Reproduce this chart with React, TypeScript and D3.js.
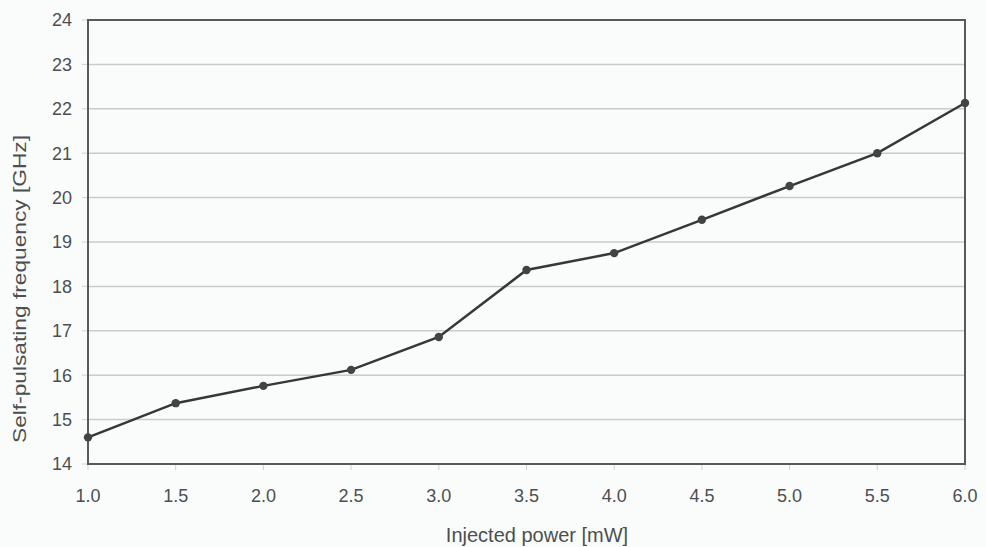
import React from 'react';
import * as d3 from 'd3';

const powers = [1.0, 1.5, 2.0, 2.5, 3.0, 3.5, 4.0, 4.5, 5.0, 5.5, 6.0];
const freqs = [14.6, 15.37, 15.76, 16.12, 16.86, 18.37, 18.75, 19.5, 20.26, 21.0, 22.13];
const xTicks = [1.0, 1.5, 2.0, 2.5, 3.0, 3.5, 4.0, 4.5, 5.0, 5.5, 6.0];
const yTicks = [14, 15, 16, 17, 18, 19, 20, 21, 22, 23, 24];

const W = 986;
const H = 547;
const margin = { top: 20, right: 21, bottom: 83, left: 88 };

export default function App() {
  const iw = W - margin.left - margin.right;
  const ih = H - margin.top - margin.bottom;

  const x = d3.scaleLinear().domain([1, 6]).range([0, iw]);
  const y = d3.scaleLinear().domain([14, 24]).range([ih, 0]);

  const points = powers.map((p, i) => ({ p, f: freqs[i] }));
  const line = d3.line<{ p: number; f: number }>().x(d => x(d.p)).y(d => y(d.f));

  const textColor = '#4c4f50';

  return (
    <svg width={W} height={H} style={{ position: 'absolute', left: 0, top: 0, background: '#fafcfc' }}
      fontFamily="Liberation Sans, Arial, sans-serif">
      <g transform={`translate(${margin.left},${margin.top})`}>
        {yTicks.map(t => (
          <g key={t}>
            {t > 14 && t < 24 && (
              <line x1={0} x2={iw} y1={y(t)} y2={y(t)} stroke="#c8cccc" strokeWidth={1.5} />
            )}
            <line x1={-6} x2={0} y1={y(t)} y2={y(t)} stroke="#d0d0d0" strokeWidth={1} />
            <text x={-16} y={y(t)} dy="0.36em" textAnchor="end" fontSize={18} fill={textColor}>
              {t}
            </text>
          </g>
        ))}
        {xTicks.map(t => (
          <g key={t}>
            <line x1={x(t)} x2={x(t)} y1={ih} y2={ih + 6} stroke="#d0d0d0" strokeWidth={1} />
            <text x={x(t)} y={ih + 38} textAnchor="middle" fontSize={18} fill={textColor}>
              {t.toFixed(1)}
            </text>
          </g>
        ))}
        <rect x={0} y={0} width={iw} height={ih} fill="none" stroke="#555a5c" strokeWidth={2} />
        <path d={line(points) || ''} fill="none" stroke="#353839" strokeWidth={2.5} />
        {points.map((d, i) => (
          <circle key={i} cx={x(d.p)} cy={y(d.f)} r={4.2} fill="#404445" />
        ))}
      </g>
      <text x={537} y={542} textAnchor="middle" fontSize={20} fill={textColor}>
        Injected power [mW]
      </text>
      <text transform="translate(26,289) rotate(-90)" textAnchor="middle"
        fontSize={19} fill={textColor} textLength={308} lengthAdjust="spacingAndGlyphs">
        Self-pulsating frequency [GHz]
      </text>
    </svg>
  );
}
